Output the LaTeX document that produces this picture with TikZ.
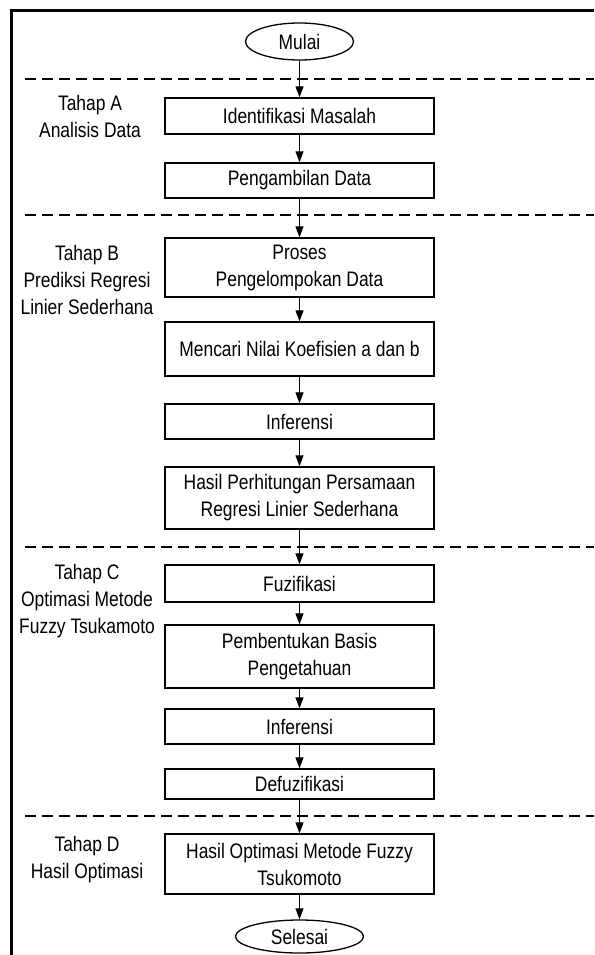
\documentclass[tikz,border=0pt]{standalone}
\usepackage{fontspec}
\setmainfont{Liberation Sans}[FakeStretch=0.83]
\usetikzlibrary{arrows.meta,shapes.geometric}

\begin{document}
\begin{tikzpicture}[x=1pt,y=-1pt,
  txt/.style={font=\fontsize{21}{27}\selectfont},
  procbox/.style={txt, draw, line width=1.3pt, minimum width=269pt, align=center, inner sep=0pt},
  term/.style={txt, ellipse, draw, line width=1.3pt, inner sep=0pt},
  flow/.style={-{Triangle[length=11pt,width=8pt]}, line width=1.1pt},
  sep/.style={dash pattern=on 11pt off 6pt, line width=1.4pt},
  phase/.style={txt, align=center, inner sep=0pt}]
\useasboundingbox (0,0) rectangle (594,955);

% outer frame (open at the right and bottom)
\draw[line width=3pt] (11.5,955) -- (11.5,10.5) -- (594,10.5);

% phase separators
\foreach \yy in {79,215,547,816}
  \draw[sep] (25,\yy) -- (594,\yy);

% phase labels
\node[phase] (la) at (90,116) {Tahap A\\Analisis Data};
\node[phase] (lb) at (87,280) {Tahap B\\Prediksi Regresi\\Linier Sederhana};
\node[phase] (lc) at (87,601) {Tahap C\\Optimasi Metode\\Fuzzy Tsukamoto};
\node[phase] (ld) at (87,860) {Tahap D\\Hasil Optimasi};

% flow steps
\node[term, minimum width=108pt, minimum height=37pt] (mulai) at (299.5,41.5) {Mulai};
\node[procbox, minimum height=36pt] (ident) at (299.5,116) {Identifikasi Masalah};
\node[procbox, minimum height=35pt] (ambil) at (299.5,180.5) {Pengambilan Data};
\node[procbox, minimum height=59pt] (proses) at (299.5,267.5) {Proses\\Pengelompokan Data};
\node[procbox, minimum height=54pt] (koef) at (299.5,349) {Mencari Nilai Koefisien a dan b};
\node[procbox, minimum height=35pt] (infa) at (299.5,421.5) {Inferensi};
\node[procbox, minimum height=62pt] (hitung) at (299.5,498) {Hasil Perhitungan Persamaan\\Regresi Linier Sederhana};
\node[procbox, minimum height=37pt] (fuzi) at (299.5,583.5) {Fuzifikasi};
\node[procbox, minimum height=63pt] (basis) at (299.5,656.5) {Pembentukan Basis\\Pengetahuan};
\node[procbox, minimum height=35pt] (infb) at (299.5,726.5) {Inferensi};
\node[procbox, minimum height=30pt] (defuz) at (299.5,784) {Defuzifikasi};
\node[procbox, minimum height=60pt] (optim) at (299.5,864) {Hasil Optimasi Metode Fuzzy\\Tsukomoto};
\node[term, minimum width=128pt, minimum height=33pt] (selesai) at (299.5,936.5) {Selesai};

% connectors
\draw[flow] (mulai) -- (ident);
\draw[flow] (ident) -- (ambil);
\draw[flow] (ambil) -- (proses);
\draw[flow] (proses) -- (koef);
\draw[flow] (koef) -- (infa);
\draw[flow] (infa) -- (hitung);
\draw[flow] (hitung) -- (fuzi);
\draw[flow] (fuzi) -- (basis);
\draw[flow] (basis) -- (infb);
\draw[flow] (infb) -- (defuz);
\draw[flow] (defuz) -- (optim);
\draw[flow] (optim) -- (selesai);
\end{tikzpicture}
\end{document}
